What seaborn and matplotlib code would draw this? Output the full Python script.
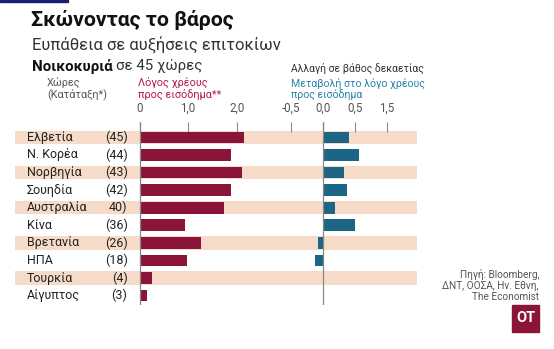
import matplotlib
matplotlib.use("Agg")
import matplotlib.pyplot as plt
import matplotlib.transforms as mtransforms
from matplotlib.patches import Rectangle
import seaborn as sns
import pandas as pd

# ---- data ----
countries = ["Ελβετία", "Ν. Κορέα", "Νορβηγία", "Σουηδία", "Αυστραλία",
             "Κίνα", "Βρετανία", "ΗΠΑ", "Τουρκία", "Αίγυπτος"]
ranks = ["(45)", "(44)", "(43)", "(42)", "40)", "(36)", "(26)", "(18)", "(4)", "(3)"]
debt_ratio = [2.14, 1.89, 2.11, 1.89, 1.74, 0.94, 1.27, 0.98, 0.26, 0.15]
debt_change = [0.41, 0.57, 0.33, 0.38, 0.19, 0.51, -0.08, -0.12, 0.0, 0.0]
left_ticks = [0, 1, 2]
left_tick_labels = ["0", "1,0", "2,0"]
right_ticks = [-0.5, 0, 0.5, 1.0]
right_tick_labels = ["-0,5", "0,0", "0,5", "1,5"]

df = pd.DataFrame({"country": countries, "rank": ranks,
                   "debt": debt_ratio, "change": debt_change})

sns.set_theme(style="white")
plt.rcParams["font.family"] = ["Roboto", "DejaVu Sans"]

W, H = 554, 349
fig = plt.figure(figsize=(W / 100, H / 100), dpi=100)
fig.patch.set_facecolor("white")

def fx(x):
    return x / W

def fy(y):
    return 1 - y / H

MAROON = "#8a1538"
BLUE = "#1d6585"
STRIPE = "#f6dcc8"
PINK = "#b3174a"
TEAL = "#2585a8"
GRAY = "#555555"

top_px, bot_px = 122, 305
y_lim = (9.53, -0.87)

# background stripes
ax_bg = fig.add_axes([fx(15), fy(bot_px), (417 - 15) / W, (bot_px - top_px) / H])
ax_bg.set_xlim(0, 1)
ax_bg.set_ylim(*y_lim)
for i in range(0, len(countries), 2):
    ax_bg.axhspan(i - 0.38, i + 0.38, color=STRIPE, lw=0)
ax_bg.axis("off")

# left panel
lx0, lscale = 139.5, 48.6
lxlim = (-0.1, 2.3)
ax_l = fig.add_axes([fx(lx0 + lxlim[0] * lscale), fy(bot_px),
                     (lxlim[1] - lxlim[0]) * lscale / W, (bot_px - top_px) / H])
ax_l.patch.set_alpha(0)
sns.barplot(data=df, x="debt", y="country", orient="h", color=MAROON,
            saturation=1, width=0.66, linewidth=0, ax=ax_l)
ax_l.set_xlim(*lxlim)
ax_l.set_ylim(*y_lim)
ax_l.axvline(0, color="#888888", lw=0.9, zorder=5)

# right panel
rx0, rscale = 322.7, 64.0
rxlim = (-0.6, 1.2)
ax_r = fig.add_axes([fx(rx0 + rxlim[0] * rscale), fy(bot_px),
                     (rxlim[1] - rxlim[0]) * rscale / W, (bot_px - top_px) / H])
ax_r.patch.set_alpha(0)
sns.barplot(data=df, x="change", y="country", orient="h", color=BLUE,
            saturation=1, width=0.66, linewidth=0, ax=ax_r)
ax_r.set_xlim(*rxlim)
ax_r.set_ylim(*y_lim)
ax_r.axvline(0, color="#888888", lw=0.9, zorder=5)

for ax, ticks, labels in [(ax_l, left_ticks, left_tick_labels),
                          (ax_r, right_ticks, right_tick_labels)]:
    for s in ax.spines.values():
        s.set_visible(False)
    ax.set_xlabel("")
    ax.set_ylabel("")
    ax.set_yticks([])
    ax.xaxis.tick_top()
    ax.set_xticks(ticks)
    ax.set_xticklabels(labels)
    ax.tick_params(axis="x", direction="in", length=7, width=0.8, color="#888888",
                   labelsize=8.3, labelcolor=GRAY, pad=5, top=True, bottom=False)

# country labels and ranks
trans = mtransforms.blended_transform_factory(fig.transFigure, ax_l.transData)
for i, (c, r) in enumerate(zip(countries, ranks)):
    fig.text(fx(27), i, c, transform=trans, va="center", ha="left",
             fontsize=9, color="#222222")
    fig.text(fx(127.5), i, r, transform=trans, va="center", ha="right",
             fontsize=9, color="#222222")

# titles
fig.text(fx(31), fy(20), "Σκώνοντας το βάρος", fontsize=15.3, fontweight="bold",
         color="#111111", va="center", ha="left")
fig.text(fx(32), fy(45), "Ευπάθεια σε αυξήσεις επιτοκίων", fontsize=12,
         color="#333333", va="center", ha="left")
t1 = fig.text(fx(32), fy(66), "Νοικοκυριά", fontsize=10.8, fontweight="bold",
              color="#111111", va="center", ha="left")
renderer = fig.canvas.get_renderer()
bb = t1.get_window_extent(renderer=renderer)
fig.text(bb.x1 / W + fx(3), fy(66), "σε 45 χώρες", fontsize=10.8,
         color="#333333", va="center", ha="left")

fig.text(fx(47), fy(83), "Χώρες", fontsize=7.8, color=GRAY, va="center")
fig.text(fx(47), fy(95), "(Κατάταξη*)", fontsize=7.8, color=GRAY, va="center")
fig.text(fx(138), fy(83), "Λόγος χρέους", fontsize=7.8, color=PINK, va="center")
fig.text(fx(138), fy(95), "προς εισόδημα**", fontsize=7.8, color=PINK, va="center")
fig.text(fx(291), fy(68), "Αλλαγή σε βάθος δεκαετίας", fontsize=7.5,
         color="#333333", va="center")
fig.text(fx(291), fy(83), "Μεταβολή στο λόγο χρέους", fontsize=7.6, color=TEAL,
         va="center")
fig.text(fx(291), fy(95), "προς εισόδημα", fontsize=7.6, color=TEAL, va="center")

for yy, s in [(275, "Πηγή: Bloomberg,"), (286, "ΔΝΤ, ΟΟΣΑ, Ην. Εθνη,"),
              (297, "The Economist")]:
    fig.text(fx(539), fy(yy), s, fontsize=7.2, color=GRAY, ha="right", va="center")

# logo
fig.patches.append(Rectangle((fx(512), fy(332)), 27 / W, 27 / H,
                             transform=fig.transFigure, color=MAROON))
fig.text(fx(525.5), fy(318.5), "OT", fontsize=10.5, fontweight="bold", color="white",
         ha="center", va="center")
# top accent line
fig.patches.append(Rectangle((0, fy(2)), 68 / W, 2 / H,
                             transform=fig.transFigure, color="#1c1f6b"))

fig.savefig("out.png", dpi=100)
